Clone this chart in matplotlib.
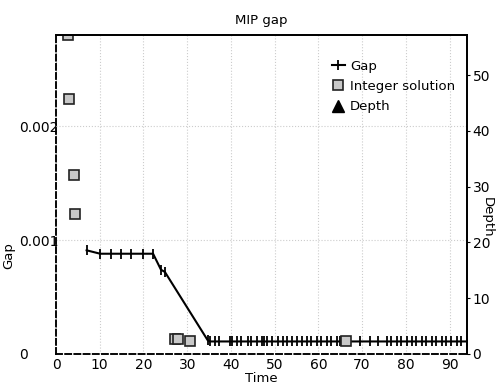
import matplotlib
matplotlib.use('Agg')
import matplotlib.pyplot as plt

plt.rcParams['font.family'] = ['DejaVu Sans Condensed', 'Liberation Sans Narrow', 'DejaVu Sans']

# Gap curve (time, gap)
gap_time = [7.0, 10.1, 12.6, 14.9, 17.1, 19.9, 22.2, 24.0, 24.9, 34.7,
            35.2, 36.3, 37.3, 39.8, 40.2, 41.3, 42.4, 44.0, 44.5, 45.9,
            47.0, 47.5, 48.2, 49.3, 50.8, 52.0, 52.9, 53.9, 55.0, 56.2,
            57.3, 58.4, 59.6, 60.7, 61.9, 63.0, 64.2, 64.9, 66.3, 69.5,
            71.8, 73.7, 75.6, 76.7, 77.9, 79.0, 80.2, 81.3, 82.4, 83.6,
            84.7, 85.9, 87.0, 88.2, 89.3, 90.4, 91.6, 92.7, 93.9]
gap_value = [0.00091, 0.00088, 0.00088, 0.00088, 0.00088, 0.00088, 0.00088,
             0.00074, 0.00072, 0.00012] + [0.00011] * 49

# integer solutions
int_time = [2.8, 3.0, 4.0, 4.3, 27.3, 28.0, 30.6, 66.3]
int_gap = [0.00280, 0.00224, 0.00157, 0.00123, 0.000134, 0.000134, 0.000113, 0.00011]

# depth (no visible points)
depth_time = []
depth_value = []

fig = plt.figure(figsize=(5.01, 3.87), dpi=100)
ax = fig.add_axes([0.1118, 0.0853, 0.8204, 0.8243])
ax2 = ax.twinx()

ln_gap, = ax.plot(gap_time, gap_value, color='black', lw=1.5, marker='|',
                  markersize=7, markeredgewidth=1.3, label='Gap')
ln_int, = ax.plot(int_time, int_gap, ls='none', marker='s', markersize=7.5,
                  markerfacecolor='#c8c8c8', markeredgecolor='#222222',
                  markeredgewidth=1.2, label='Integer solution')
ln_dep, = ax2.plot(depth_time, depth_value, ls='none', marker='^', markersize=8,
                   color='black', label='Depth')

ax.set_xlim(0, 94)
ax.set_ylim(0, 0.0028)
ax2.set_ylim(0, 57.2)

ax.set_xticks(range(0, 91, 10))
ax.set_yticks([0, 0.001, 0.002])
ax.set_yticklabels(['0', '0.001', '0.002'])
ax2.set_yticks(range(0, 51, 10))

ax.tick_params(axis='x', length=0, labelsize=10, pad=3)
ax.tick_params(axis='y', length=0, labelsize=10, pad=26.5)
for lab in ax.get_yticklabels():
    lab.set_horizontalalignment('left')
ax2.tick_params(axis='y', length=2, labelsize=10, pad=2)

ax.grid(True, color='#cccccc', ls=':', lw=0.8)

for a in (ax, ax2):
    a.spines['left'].set_linestyle((0, (4, 2)))
    a.spines['bottom'].set_linestyle((0, (4, 2)))
    a.spines['left'].set_linewidth(1.1)
    a.spines['bottom'].set_linewidth(1.1)
    a.spines['top'].set_linewidth(1.3)
    a.spines['right'].set_linewidth(1.3)

ax.set_title('MIP gap', fontsize=9.5, pad=8)
ax.set_xlabel('Time', fontsize=9.5, labelpad=0)
ax.set_ylabel('Gap', fontsize=9.5)
ax.yaxis.set_label_coords(-0.1, 0.31)
ax2.set_ylabel('Depth', fontsize=9.5, rotation=270)
ax2.yaxis.set_label_coords(1.066, 0.43)

ax2.legend(handles=[ln_gap, ln_int, ln_dep], loc='upper right',
           bbox_to_anchor=(1.0, 0.96), frameon=False, fontsize=9.5,
           handlelength=1.0, handletextpad=0.4, labelspacing=0.55)

fig.savefig('out.png', dpi=100)
